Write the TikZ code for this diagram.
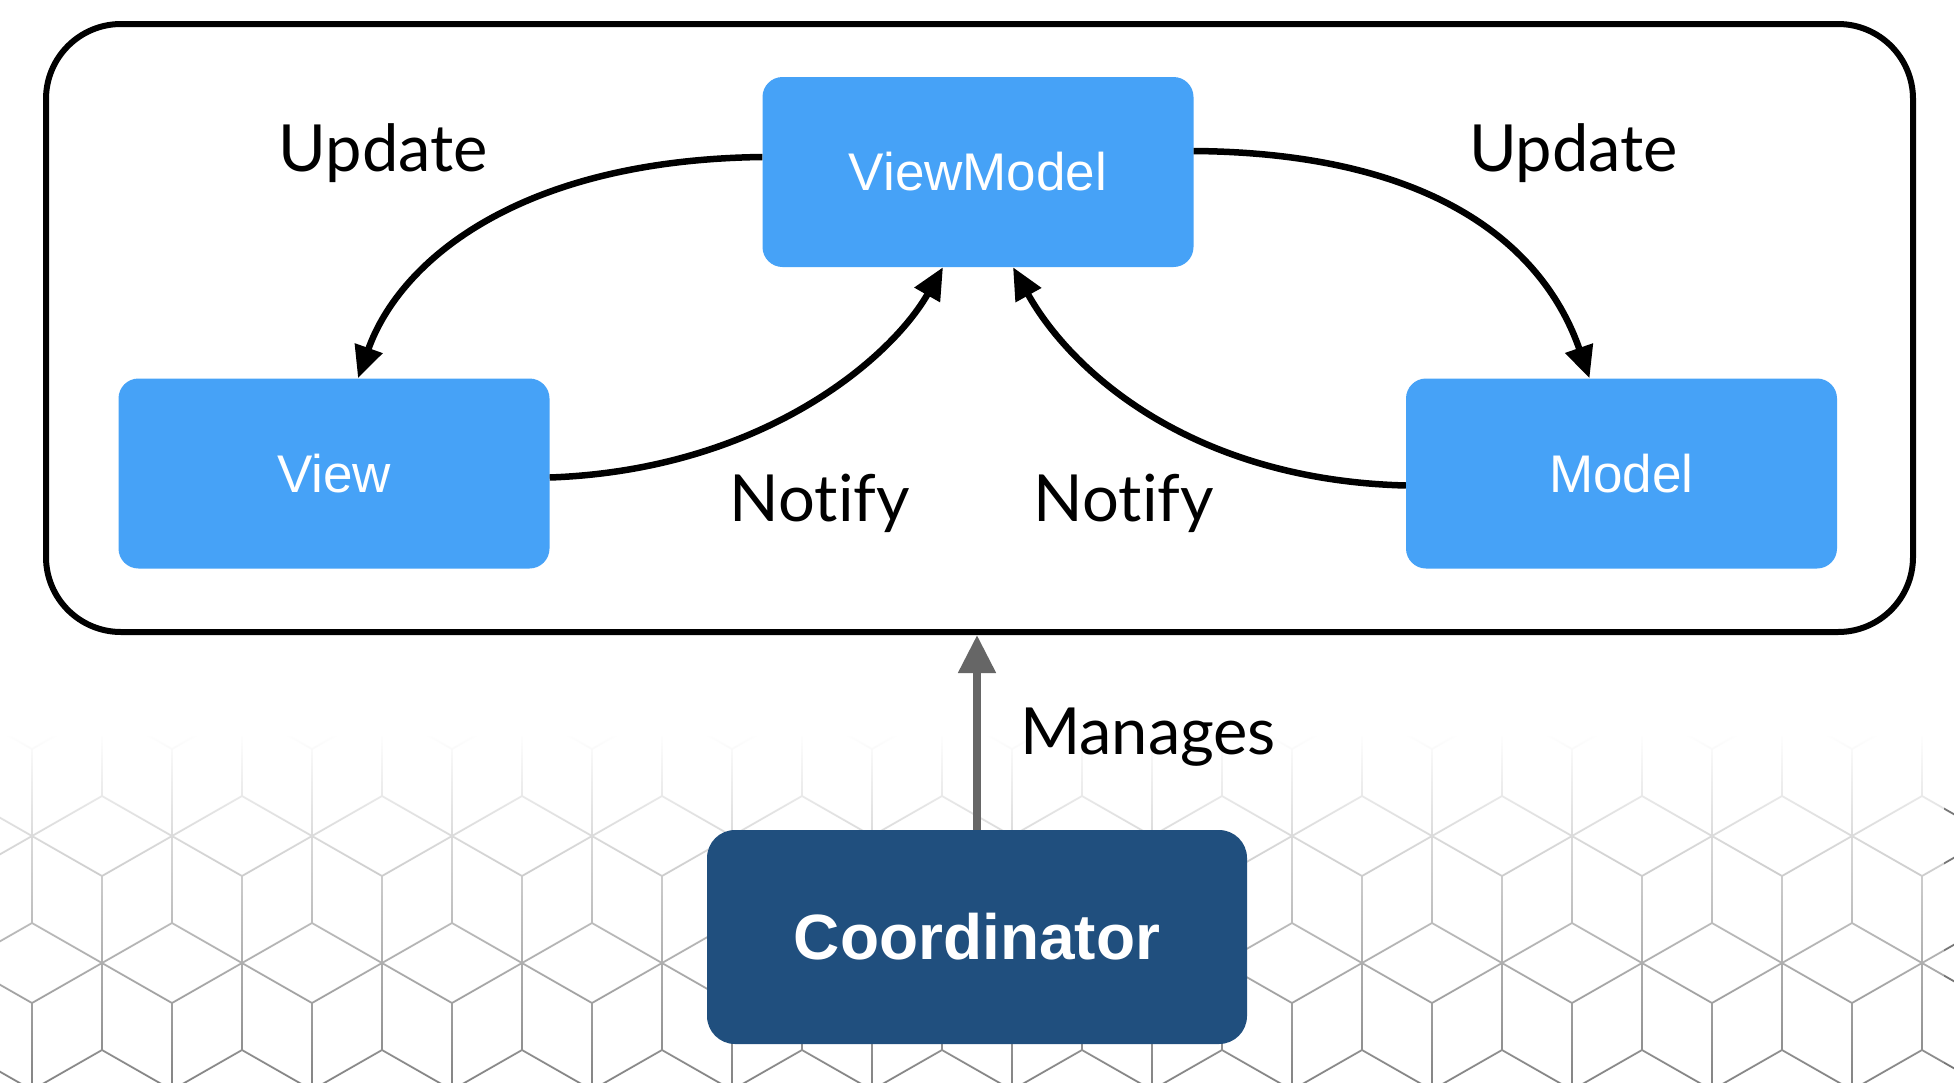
\documentclass[tikz,border=0pt]{standalone}
\usepackage{fontspec}
\setmainfont{Liberation Sans}
\newfontfamily\labelfont[Ligatures=NoCommon]{Lato}
\usetikzlibrary{arrows.meta,calc,fadings}
\definecolor{nodeblue}{HTML}{46A2F7}
\definecolor{coordblue}{HTML}{204F7E}
\definecolor{mgray}{HTML}{666666}
\definecolor{hexgray}{HTML}{777777}
\tikzfading[name=fadedown, top color=transparent!0, bottom color=transparent!100]
\begin{document}
\begin{tikzpicture}[x=1pt,y=-1pt,
  box/.style={draw=none, fill=nodeblue, rounded corners=20pt, minimum width=431pt, minimum height=190pt, text=white, font=\fontsize{53}{60}\selectfont, inner sep=0pt},
  lbl/.style={anchor=base, inner sep=0pt, font=\labelfont\fontsize{65}{78}\selectfont},
  flow/.style={line width=6.5pt, -{Triangle[length=32pt,width=28pt]}},
  hexline/.style={hexgray, line width=1.8pt}]

\useasboundingbox (0,0) rectangle (1954,1082);
\fill[white] (0,0) rectangle (1954,1082);

% background tumbling-block pattern
\foreach \k/\y in {-1/709,0/836,1/963,2/1090} {
  \pgfmathsetmacro\off{mod(\k+2,2)==0 ? 32 : 102}
  \foreach \i in {-1,...,14} {
    \pgfmathsetmacro\xx{\off+140*\i}
    \draw[hexline] (\xx,\y-87) -- (\xx,\y+87)
                   (\xx-70,\y-40) -- (\xx+70,\y+40)
                   (\xx-70,\y+40) -- (\xx+70,\y-40);
  }
}
\fill[white] (0,540) rectangle (1954,736);
\fill[white, path fading=fadedown] (0,735) rectangle (1954,1120);

% frame
\node[draw, line width=6pt, rounded corners=75pt, minimum width=1867pt, minimum height=608pt, inner sep=0pt] (frame) at (979.5,328) {};

% nodes
\node[box] (vm) at (978,172) {ViewModel};
\node[box] (view) at (334,473.5) {View};
\node[box] (model) at (1621.5,473.5) {Model};
\node[box, fill=coordblue, minimum width=540pt, minimum height=214pt, rounded corners=28pt, font=\bfseries\fontsize{64}{72}\selectfont] (coord) at (977,937) {Coordinator};

% labels
\node[lbl] (upl) at (383.5,171) {Update};
\node[lbl] (upr) at (1573.5,171) {Update};
\node[lbl] (nol) at (820,521) {Notify};
\node[lbl] (nor) at (1124,521) {Notify};
\node[lbl] (man) at (1148,754) {Manages};

% connectors
\draw[flow] ($(vm.west)+(0,-15)$) .. controls (520,160) and (400,260) .. ($(view.north)+(24,0)$);
\draw[flow] ($(vm.east)+(0,-21)$) .. controls (1440,153) and (1545,250) .. ($(model.north)+(-32,0)$);
\draw[flow] ($(view.east)+(0,4)$) .. controls (760,470) and (890,360) .. ($(vm.south)+(-35,0)$);
\draw[flow] ($(model.west)+(0,12)$) .. controls (1190,480) and (1070,370) .. ($(vm.south)+(35,0)$);
\draw[line width=8pt, mgray, -{Triangle[length=38pt,width=36pt]}] (coord.north) -- (coord.north |- frame.south);
\end{tikzpicture}
\end{document}
